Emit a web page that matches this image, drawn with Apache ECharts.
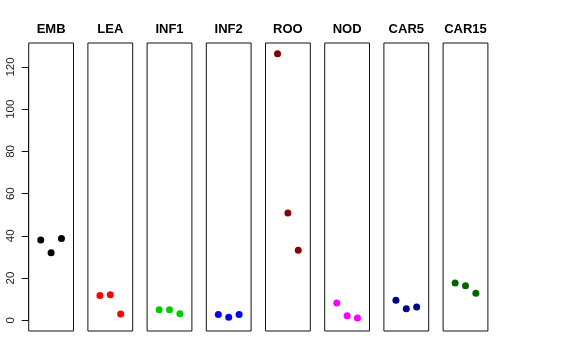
<!DOCTYPE html>
<html>
<head>
<meta charset="utf-8">
<script src="https://cdn.jsdelivr.net/npm/echarts@6/dist/echarts.min.js"></script>
<style>html,body{margin:0;padding:0;background:#fff}#c{width:576px;height:360px}</style>
</head>
<body>
<div id="c"></div>
<script>
// ---- data ----
const categories = ['EMB', 'LEA', 'INF1', 'INF2', 'ROO', 'NOD', 'CAR5', 'CAR15'];
const xPositions = [1, 2, 3];
const EMB = [38.0, 32.0, 38.8];
const LEA = [11.7, 12.1, 3.0];
const INF1 = [5.0, 5.0, 3.1];
const INF2 = [2.7, 1.4, 2.7];
const ROO = [126.3, 50.8, 33.2];
const NOD = [8.2, 2.2, 1.1];
const CAR5 = [9.5, 5.5, 6.3];
const CAR15 = [17.7, 16.4, 12.8];
const yTickMin = 0, yTickMax = 120, yTickStep = 20;

// ---- styles ----
const seriesValues = [EMB, LEA, INF1, INF2, ROO, NOD, CAR5, CAR15];
const colors = ['#000000', '#FF0000', '#00CD00', '#0000FF', '#8B0000', '#FF00FF', '#00008B', '#006400'];
const FONT = "'Liberation Sans', Arial, Helvetica, sans-serif";
const panelLeft0 = 28.7, panelStep = 59.2, panelW = 44.8;
const panelTop = 43, panelH = 288;
const axisTop = 67, axisH = 253.3;
const pxPerUnit = axisH / (yTickMax - yTickMin);
const zeroY = axisTop + axisH;
const yMin = -(panelTop + panelH - zeroY) / pxPerUnit;
const yMax = (zeroY - panelTop) / pxPerUnit;

const grids = [], xAxes = [], yAxes = [], series = [], graphics = [];
categories.forEach((name, i) => {
  const left = panelLeft0 + panelStep * i;
  grids.push({left: left, top: panelTop, width: panelW, height: panelH,
    show: true, borderColor: '#111', borderWidth: 1, backgroundColor: 'transparent'});
  xAxes.push({gridIndex: i, type: 'value', min: -0.16, max: 4.16, show: false});
  yAxes.push({gridIndex: i, type: 'value', min: yMin, max: yMax, show: false});
  series.push({type: 'scatter', xAxisIndex: i, yAxisIndex: i, symbol: 'circle', symbolSize: 7,
    itemStyle: {color: colors[i], opacity: 1}, silent: true,
    data: seriesValues[i].map((v, k) => [xPositions[k], v])});
  graphics.push({type: 'text', x: left + panelW / 2, y: 29.5,
    style: {text: name, fill: '#000', font: 'bold 13px ' + FONT, textAlign: 'center', textVerticalAlign: 'middle'}});
});
// separate grid for the y axis (R-style axis spanning only the tick range)
const ai = categories.length;
grids.push({left: panelLeft0, top: axisTop, width: panelW, height: axisH, show: false});
xAxes.push({gridIndex: ai, type: 'value', show: false, min: 0, max: 1});
yAxes.push({gridIndex: ai, type: 'value', min: yTickMin, max: yTickMax, interval: yTickStep,
  axisLine: {show: true, lineStyle: {color: '#111', width: 1}},
  axisTick: {show: true, length: 7, lineStyle: {color: '#111'}},
  splitLine: {show: false},
  axisLabel: {rotate: 90, margin: 12, color: '#222', fontSize: 11.5, fontFamily: FONT}});

const chart = echarts.init(document.getElementById('c'), null, {renderer: 'canvas'});
chart.setOption({
  animation: false,
  backgroundColor: '#fff',
  grid: grids, xAxis: xAxes, yAxis: yAxes, series: series,
  graphic: graphics
});
</script>
</body>
</html>
